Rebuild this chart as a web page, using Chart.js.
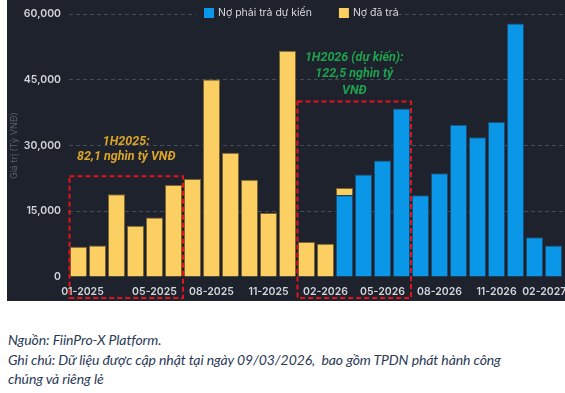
<!DOCTYPE html>
<html lang="vi">
<head>
<meta charset="utf-8">
<title>Nợ TPDN đến hạn</title>
<script src="https://cdn.jsdelivr.net/npm/chart.js@4.4.1/dist/chart.umd.min.js"></script>
<style>
  html, body { margin: 0; padding: 0; background: #fff; }
  body { width: 565px; height: 393px; position: relative; overflow: hidden; }
  #khung { position: absolute; left: 7px; top: 0; width: 558px; height: 301px; background: #1e222d; }
  #ghichu {
    position: absolute; left: 8px; top: 330px;
    font-family: Lato, sans-serif; font-style: italic; font-size: 14px; line-height: 19.5px;
    letter-spacing: -0.1px;
    color: #2b3a57;
  }
</style>
</head>
<body>
<div id="khung"><canvas id="bieuDo" width="558" height="301"></canvas></div>
<div id="ghichu">Nguồn: FiinPro-X Platform.<br>Ghi chú: Dữ liệu được cập nhật tại ngày 09/03/2026,&nbsp; bao gồm TPDN phát hành công<br>chúng và riêng lẻ</div>

<script>
// --- Dữ liệu (tỷ VNĐ) ---
const thang = [
  '01-2025', '02-2025', '03-2025', '04-2025', '05-2025', '06-2025',
  '07-2025', '08-2025', '09-2025', '10-2025', '11-2025', '12-2025',
  '01-2026', '02-2026', '03-2026', '04-2026', '05-2026', '06-2026',
  '07-2026', '08-2026', '09-2026', '10-2026', '11-2026', '12-2026',
  '01-2027', '02-2027'
];
const noPhaiTra = [
  null, null, null, null, null, null, null, null, null, null, null, null,
  null, null, 18700, 23400, 26600, 38500, 18700, 23700, 34800, 31900, 35400, 57900,
  9100, 7200
];
const noDaTra = [
  6900, 7200, 18900, 11700, 13600, 21000, 22400, 45100, 28400, 22200, 14600, 51700,
  8000, 7600, 1650, null, null, null, null, null, null, null, null, null,
  null, null
];
const nhanTrucX = ['01-2025', '05-2025', '08-2025', '11-2025', '02-2026', '05-2026', '08-2026', '11-2026', '02-2027'];
const mocTrucY = [0, 15000, 30000, 45000, 60000];

// khung đỏ + chú thích
const nhom1H2025 = { tu: '01-2025', den: '06-2025', dinh: 23000, chu: ['1H2025:', '82,1 nghìn tỷ VNĐ'], chuTai: 30900 };
const nhom1H2026 = { tu: '01-2026', den: '06-2026', dinh: 40100, chu: ['1H2026 (dự kiến):', '122,5 nghìn tỷ', 'VNĐ'], chuTai: 50100 };

const MAU_NEN = '#1e222d';
const MAU_XANH = '#0a97e8';
const MAU_VANG = '#fbcf62';

document.addEventListener('DOMContentLoaded', function() {
  const ctx = document.getElementById('bieuDo').getContext('2d');

  // vẽ khung nét đứt đỏ, chữ chú thích và chú giải
  const veThem = {
    id: 'veThem',
    afterDraw(chart) {
      const c = chart.ctx;
      const x = chart.scales.x, y = chart.scales.y;
      const nuaO = (x.getPixelForValue(1) - x.getPixelForValue(0)) / 2;

      function khung(n, mauChu, caoDong) {
        const trai = x.getPixelForValue(thang.indexOf(n.tu)) - nuaO + 0.5;
        const phai = x.getPixelForValue(thang.indexOf(n.den)) + nuaO;
        const tren = y.getPixelForValue(n.dinh);
        const duoi = chart.chartArea.bottom + 21;
        c.save();
        c.strokeStyle = '#e3121b';
        c.lineWidth = 2;
        c.setLineDash([5, 3]);
        c.strokeRect(trai, tren, phai - trai, duoi - tren);
        c.restore();

        c.save();
        c.fillStyle = mauChu;
        c.font = 'italic bold 12.5px Roboto, sans-serif';
        c.textAlign = 'center';
        c.textBaseline = 'middle';
        const giua = (trai + phai) / 2;
        const y0 = y.getPixelForValue(n.chuTai);
        n.chu.forEach((dong, i) => c.fillText(dong, giua, y0 + i * caoDong));
        c.restore();
      }
      khung(nhom1H2025, '#dca526', 15);
      khung(nhom1H2026, '#1fa24d', 16.5);

      // chú giải
      c.save();
      c.fillStyle = MAU_NEN;
      c.fillRect(189, 3, 196, 19);
      c.font = '10.5px Inter, sans-serif';
      c.textBaseline = 'middle';
      let lx = 197;
      chart.data.datasets.forEach(ds => {
        c.fillStyle = ds.backgroundColor;
        c.fillRect(lx, 8, 10, 10);
        c.fillStyle = '#d6d8dc';
        c.textAlign = 'left';
        c.fillText(ds.label, lx + 14, 13);
        lx += 14 + c.measureText(ds.label).width + 27;
      });
      c.restore();
    }
  };

  new Chart(ctx, {
    type: 'bar',
    data: {
      labels: thang,
      datasets: [
        {
          label: 'Nợ phải trả dự kiến',
          data: noPhaiTra,
          backgroundColor: MAU_XANH,
          borderColor: '#1d4e78',
          borderWidth: 1
        },
        {
          label: 'Nợ đã trả',
          data: noDaTra,
          backgroundColor: MAU_VANG,
          borderColor: '#7a6430',
          borderWidth: 1
        }
      ]
    },
    options: {
      responsive: false,
      animation: false,
      devicePixelRatio: 1,
      layout: { padding: { top: 12, right: 2, bottom: 0, left: 0 } },
      datasets: { bar: { categoryPercentage: 1, barPercentage: 0.9 } },
      plugins: { legend: { display: false }, tooltip: { enabled: false } },
      scales: {
        x: {
          stacked: true,
          grid: { display: false, drawTicks: false },
          border: { display: false },
          ticks: {
            autoSkip: false,
            maxRotation: 0,
            padding: 9,
            color: '#d3d5d9',
            font: { family: 'Inter', size: 10.5, weight: '600' },
            callback: function(val, i) {
              const t = thang[i];
              if (!nhanTrucX.includes(t)) return '';
              if (i === 0) return '   ' + t;
              if (i === thang.length - 1) return t + '       ';
              return t;
            }
          },
          afterFit: function(s) { s.paddingLeft = 0; s.paddingRight = 0; s.height = 24; }
        },
        y: {
          stacked: true,
          min: 0,
          max: 60000,
          afterBuildTicks: function(s) { s.ticks = mocTrucY.map(v => ({ value: v })); },
          grid: {
            drawTicks: false,
            color: c => c.tick && c.tick.value === 0 ? 'rgba(0,0,0,0)' : '#464b56'
          },
          border: { display: false, dash: [4, 3] },
          ticks: {
            padding: 8,
            color: '#d3d5d9',
            font: { family: 'Inter', size: 10.5, weight: '600' },
            callback: v => v.toLocaleString('en-US')
          },
          title: {
            display: true,
            text: 'Giá trị (Tỷ VNĐ)',
            color: '#5d616b',
            font: { family: 'Inter', size: 9 },
            padding: { top: 2, bottom: 0 }
          },
          afterFit: function(s) { s.width = 62; }
        }
      }
    },
    plugins: [veThem]
  });
});
</script>
</body>
</html>
